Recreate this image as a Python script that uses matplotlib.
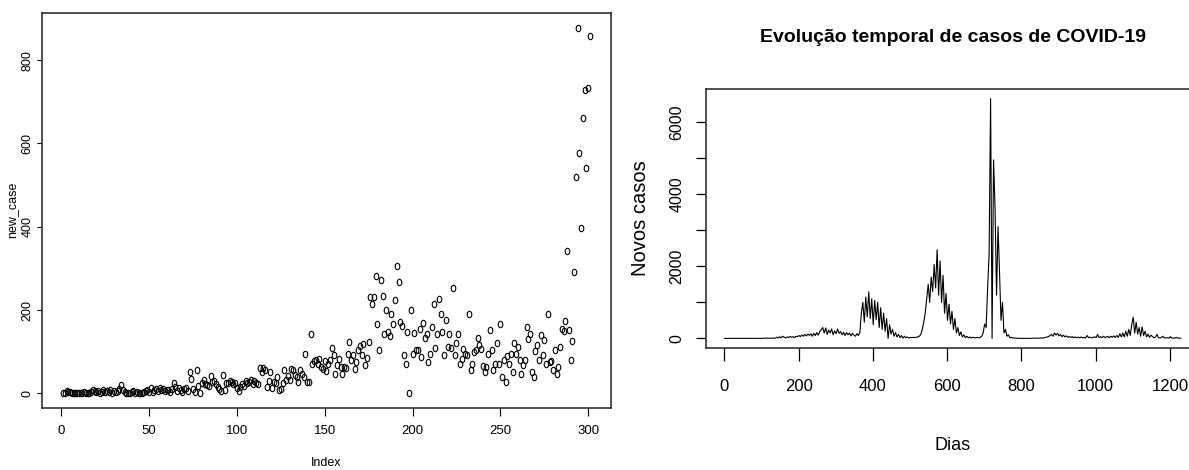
import numpy as np
import matplotlib
matplotlib.use("Agg")
import matplotlib.pyplot as plt
from matplotlib import font_manager
from matplotlib.path import Path

# ---------------- data ----------------
# left panel: new_case by Index (1..301)
new_case = [
    2, 0, 5, 3, 4, 2, 1, 0, 1, 2,
    0, 1, 3, 0, 1, 2, 4, 9, 5, 3,
    6, 2, 4, 9, 3, 6, 4, 7, 2, 5,
    3, 6, 10, 20, 8, 4, 1, 0, 2, 3,
    5, 2, 4, 1, 0, 2, 3, 5, 8, 4,
    13, 4, 7, 10, 6, 12, 8, 10, 6, 9,
    7, 4, 11, 26, 15, 5, 14, 8, 3, 10,
    12, 5, 52, 35, 10, 3, 57, 18, 2, 26,
    31, 22, 20, 17, 42, 28, 30, 22, 15, 10,
    6, 45, 8, 24, 26, 29, 27, 22, 25, 12,
    5, 15, 22, 18, 30, 25, 28, 32, 22, 30,
    24, 22, 60, 52, 60, 55, 16, 30, 52, 12,
    28, 24, 40, 8,
    11, 26, 55, 31, 41, 31, 59, 55, 43, 39,
    27, 55, 47, 39, 95, 27, 27, 142, 71, 78,
    81, 70, 83, 63, 59, 78, 54, 70, 79, 110,
    91, 47, 67, 83, 63, 47, 63, 62, 95, 123,
    79, 91, 59, 75, 103, 113, 91, 118, 67, 86,
    123, 231, 214, 231, 281, 167, 103, 273, 233, 143,
    201, 147, 137, 190, 167, 225, 305, 268, 171, 161,
    91, 70, 147, 0, 201, 95, 145, 105, 103, 155,
    87, 169, 134, 143, 75, 95, 159, 214, 110, 142,
    227, 190, 147, 91, 175, 111, 142, 110, 252, 91,
    121, 142, 71, 83, 107, 94, 91, 191, 55, 70,
    99, 105, 134, 115, 107, 65, 51, 63, 94, 153,
    105, 55, 71, 121, 71, 166, 39, 79, 27, 89,
    71, 95, 51, 121, 95, 111, 81, 47, 67, 81,
    159, 131, 142, 51, 39, 102, 115, 81, 139, 91,
    127, 71, 190, 75, 78, 55, 103, 46, 63, 111,
    155,
    150, 174, 342, 153, 79, 126, 292, 520, 878, 576,
    396, 662, 729, 542, 733, 857,
]
index = np.arange(1, len(new_case) + 1)
left_xticks = [0, 50, 100, 150, 200, 250, 300]
left_yticks = [0, 200, 400, 600, 800]

# right panel: new cases per day (read every 4 days, days 1..1229)
novos_casos = [
    # days 1..109
    0, 0, 0, 0, 0, 0, 0, 0, 0, 0,
    0, 0, 0, 0, 0, 0, 0, 0, 0, 0,
    0, 0, 0, 0, 0, 0, 1, 2,
    # days 113..
    15, 3, 5, 8, 4, 10, 6, 30, 12, 45,
    20, 60, 35, 15, 40, 25, 55, 30, 50, 20,
    60, 45, 80, 50, 95, 60, 110, 70, 120, 85,
    130, 60, 140, 80, 160, 90, 190, 240, 300, 150,
    290, 110, 230, 150, 260, 100, 210, 130, 260, 140,
    190, 100, 170, 80, 160, 100, 150, 70, 140, 90,
    60, 130, 80, 160, 700, 1000, 450, 1150, 600, 1290,
    550, 1100, 380, 1050, 520, 1000, 300, 850, 250, 700,
    200, 550, 0, 380, 120, 250, 60, 160, 40, 110,
    20, 80, 10, 60, 20, 40, 10, 30, 20, 30,
    25, 30, 40, 60, 110, 250, 450, 700, 1100, 1500,
    1000, 1700, 1300, 2050, 1400, 2460, 1200, 2150, 1000, 1750,
    700, 1250, 500, 950, 400, 750, 250, 550, 150, 300,
    80, 180, 40, 100, 20, 60, 15, 40, 10, 30,
    25, 10, 30, 15, 30, 60, 150, 400, 300, 1400,
    2350, 6650, 0, 4950, 3600, 1200, 3100, 1850, 500, 1000,
    150, 250, 60, 100, 15, 30, 10, 15, 5, 5,
    3, 2, 0, 2, 0, 3, 1, 0, 2, 5,
    3, 8, 2, 10, 5, 15, 8, 20, 30, 40,
    50, 80, 110, 60, 150, 90, 140, 70, 110, 50,
    90, 40, 70, 30, 55, 25, 50, 20, 40, 20,
    35, 15, 40, 15, 30, 10, 80, 20, 35, 15,
    30, 45, 20, 110, 25, 50, 20, 60, 25, 40,
    55, 20, 60, 30, 70, 25, 80, 30, 130, 40,
    150, 40, 200, 60, 250, 80, 380, 590, 150, 450,
    120, 300, 60, 320, 80, 200, 40, 120, 30, 90,
    50, 15, 40, 110, 20, 10, 25, 60, 10, 15,
    20, 5, 50, 10, 5, 8, 30, 5, 10, 5,
]
dias = np.arange(1, 4 * len(novos_casos), 4)
right_xticks = [0, 200, 400, 600, 800, 1000, 1200]
right_yticks = [0, 1000, 2000, 3000, 4000, 5000, 6000]
right_ylabels = ["0", "", "2000", "", "4000", "", "6000"]
title = "Evolução temporal de casos de COVID-19"

# ---------------- fonts ----------------
names = {f.name for f in font_manager.fontManager.ttflist}
HAS_NARROW = "Liberation Sans Narrow" in names
NARROW = "Liberation Sans Narrow" if HAS_NARROW else "Liberation Sans"
REG = "Liberation Sans"

W, H = 1189, 470
fig = plt.figure(figsize=(W / 100, H / 100), dpi=100)
fig.patch.set_facecolor("white")


def r_lim(vals):
    lo, hi = float(np.min(vals)), float(np.max(vals))
    d = 0.04 * (hi - lo)
    return lo - d, hi + d


# ellipse marker (circles look horizontally squeezed in the reference)
t = np.linspace(0, 2 * np.pi, 40)
ell = Path(np.column_stack([0.72 * np.cos(t), np.sin(t)]))

# ---------------- left panel ----------------
ax1 = fig.add_axes([42 / W, 1 - 408 / H, (611 - 42) / W, (408 - 13) / H])
ax1.plot(index, new_case, linestyle="none", marker=ell, ms=4.6,
         mfc="none", mec="black", mew=0.8)
ax1.set_xlim(*r_lim(index))
ax1.set_ylim(*r_lim(new_case))
ax1.set_xticks(left_xticks)
ax1.set_xticklabels([str(v) for v in left_xticks], family=NARROW,
                    fontsize=(11 if HAS_NARROW else 9.5))
ax1.set_yticks(left_yticks)
ax1.set_yticklabels([str(v) for v in left_yticks], family=REG, fontsize=9,
                    rotation=90, va="center")
ax1.tick_params(axis="x", length=6, width=0.8, pad=6, colors="black")
ax1.tick_params(axis="y", length=3.5, width=0.8, pad=2.5, colors="black")
for s in ax1.spines.values():
    s.set_linewidth(1.1)
    s.set_color("#222222")

fig.text(12 / W, 1 - 210 / H, "new_case", rotation=90, ha="center",
         va="center", family=REG, fontsize=9)
fig.text(326 / W, 1 - 457 / H, "Index", ha="center", va="top",
         family=NARROW, fontsize=(10 if HAS_NARROW else 9))

# ---------------- right panel ----------------
px_day = 0.3714
x0 = 724.3
xl = r_lim(dias)
ax2_left = x0 + xl[0] * px_day
ax2_w = (xl[1] - xl[0]) * px_day
ax2 = fig.add_axes([ax2_left / W, 1 - 348 / H, ax2_w / W, (348 - 89) / H])
ax2.plot(dias, novos_casos, color="black", lw=0.8)
ax2.set_xlim(*xl)
ax2.set_ylim(*r_lim(novos_casos))
ax2.set_xticks(right_xticks)
ax2.set_xticklabels([str(v) for v in right_xticks], family=NARROW,
                    fontsize=(15 if HAS_NARROW else 12))
ax2.set_yticks(right_yticks)
ax2.set_yticklabels(right_ylabels, family=REG, fontsize=11.5, rotation=90,
                    va="center")
ax2.tick_params(axis="x", length=9.5, width=0.9, pad=13, colors="black")
ax2.tick_params(axis="y", length=7, width=0.9, pad=9, colors="black")
for s in ax2.spines.values():
    s.set_linewidth(1.1)
    s.set_color("#222222")

fig.text(641 / W, 1 - 218 / H, "Novos casos", rotation=90, ha="center",
         va="center", family=REG, fontsize=14.5)
fig.text(953 / W, 1 - 445 / H, "Dias", ha="center", va="center",
         family=NARROW, fontsize=(16 if HAS_NARROW else 13))
fig.text(953 / W, 1 - 37 / H, title, ha="center", va="center",
         family=NARROW, fontsize=(15.5 if HAS_NARROW else 14),
         fontweight="bold")

fig.savefig("out.png", dpi=100, facecolor="white")
